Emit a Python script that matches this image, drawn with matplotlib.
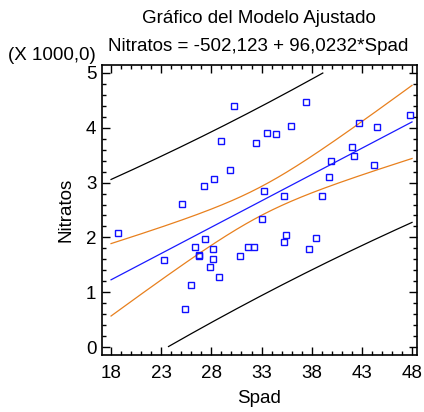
import numpy as np
import matplotlib
matplotlib.use("Agg")
import matplotlib.pyplot as plt
from matplotlib.ticker import MultipleLocator

plt.rcParams['font.family'] = ['Liberation Sans', 'DejaVu Sans']

# datos (Spad, Nitratos)
spad = [18.7, 23.3, 25.1, 25.4, 26.0, 26.4, 26.75, 26.75, 27.3, 27.4, 27.9, 28.2,
        28.2, 28.3, 28.8, 29.0, 29.9, 30.3, 30.9, 31.7, 32.2, 32.4, 33.0, 33.2,
        33.5, 34.4, 35.2, 35.2, 35.4, 35.9, 37.4, 37.7, 38.4, 39.0, 39.7, 39.9,
        42.0, 42.2, 42.7, 44.2, 44.5, 47.8]
nitratos = [2074, 1580, 2616, 700, 1140, 1825, 1660, 1670, 2944, 1965, 1460, 1790,
            1610, 3070, 1280, 3760, 3236, 4390, 1667, 1825, 1825, 3720, 2336, 2847,
            3900, 3880, 1910, 2760, 2050, 4040, 4477, 1790, 1980, 2760, 3110, 3390,
            3656, 3490, 4090, 3320, 4010, 4240]

intercept = -502.123
slope = 96.0232
x_ticks = [18, 23, 28, 33, 38, 43, 48]
y_ticks = [0, 1, 2, 3, 4, 5]

x = np.array(spad)
y = np.array(nitratos)
n = len(x)
resid = y - (intercept + slope * x)
s = np.sqrt(np.sum(resid ** 2) / (n - 2))
sxx = np.sum((x - x.mean()) ** 2)
t = 2.021

xl = np.linspace(18, 48, 200)
fit = intercept + slope * xl
hw_c = t * s * np.sqrt(1 / n + (xl - x.mean()) ** 2 / sxx)
hw_p = t * s * np.sqrt(1 + 1 / n + (xl - x.mean()) ** 2 / sxx)


def clip(v):
    v = v / 1000.0
    return np.where((v >= 0) & (v <= 5), v, np.nan)


fs = 13.5
fig = plt.figure(figsize=(4.24, 4.12), dpi=100)
ax = fig.add_axes([0.2406, 0.1383, 0.743, 0.704])

ax.plot(xl, clip(fit + hw_p), color='black', lw=0.9)
ax.plot(xl, clip(fit - hw_p), color='black', lw=0.9)
ax.plot(xl, clip(fit + hw_c), color='#e8801e', lw=0.9)
ax.plot(xl, clip(fit - hw_c), color='#e8801e', lw=0.9)
ax.plot(xl, clip(fit), color='#1a1aff', lw=0.9)
ax.plot(x, y / 1000.0, 's', mfc='none', mec='#1010ff', ms=4, mew=1)

ax.set_xlim(17.1, 48.5)
ax.set_ylim(-0.146, 5.146)
ax.set_xticks(x_ticks)
ax.set_yticks(y_ticks)
ax.xaxis.set_minor_locator(MultipleLocator(1))
ax.yaxis.set_minor_locator(MultipleLocator(0.2))
ax.tick_params(which='both', direction='in', top=True, right=True, labelsize=fs, width=1)
ax.tick_params(which='major', length=6, pad=4)
ax.tick_params(axis='x', which='major', pad=7)
ax.tick_params(which='minor', length=3)
for sp in ax.spines.values():
    sp.set_linewidth(1.2)

ax.set_xlabel('Spad', fontsize=fs, labelpad=6)
ax.set_ylabel('Nitratos', fontsize=fs, labelpad=8)
fig.text(0.61, 0.955, 'Gráfico del Modelo Ajustado', ha='center', va='center', fontsize=fs)
fig.text(0.61, 0.888, 'Nitratos = -502,123 + 96,0232*Spad', ha='center', va='center', fontsize=fs)
fig.text(0.018, 0.866, '(X 1000,0)', ha='left', va='center', fontsize=fs)

fig.savefig('out.png', dpi=100)
